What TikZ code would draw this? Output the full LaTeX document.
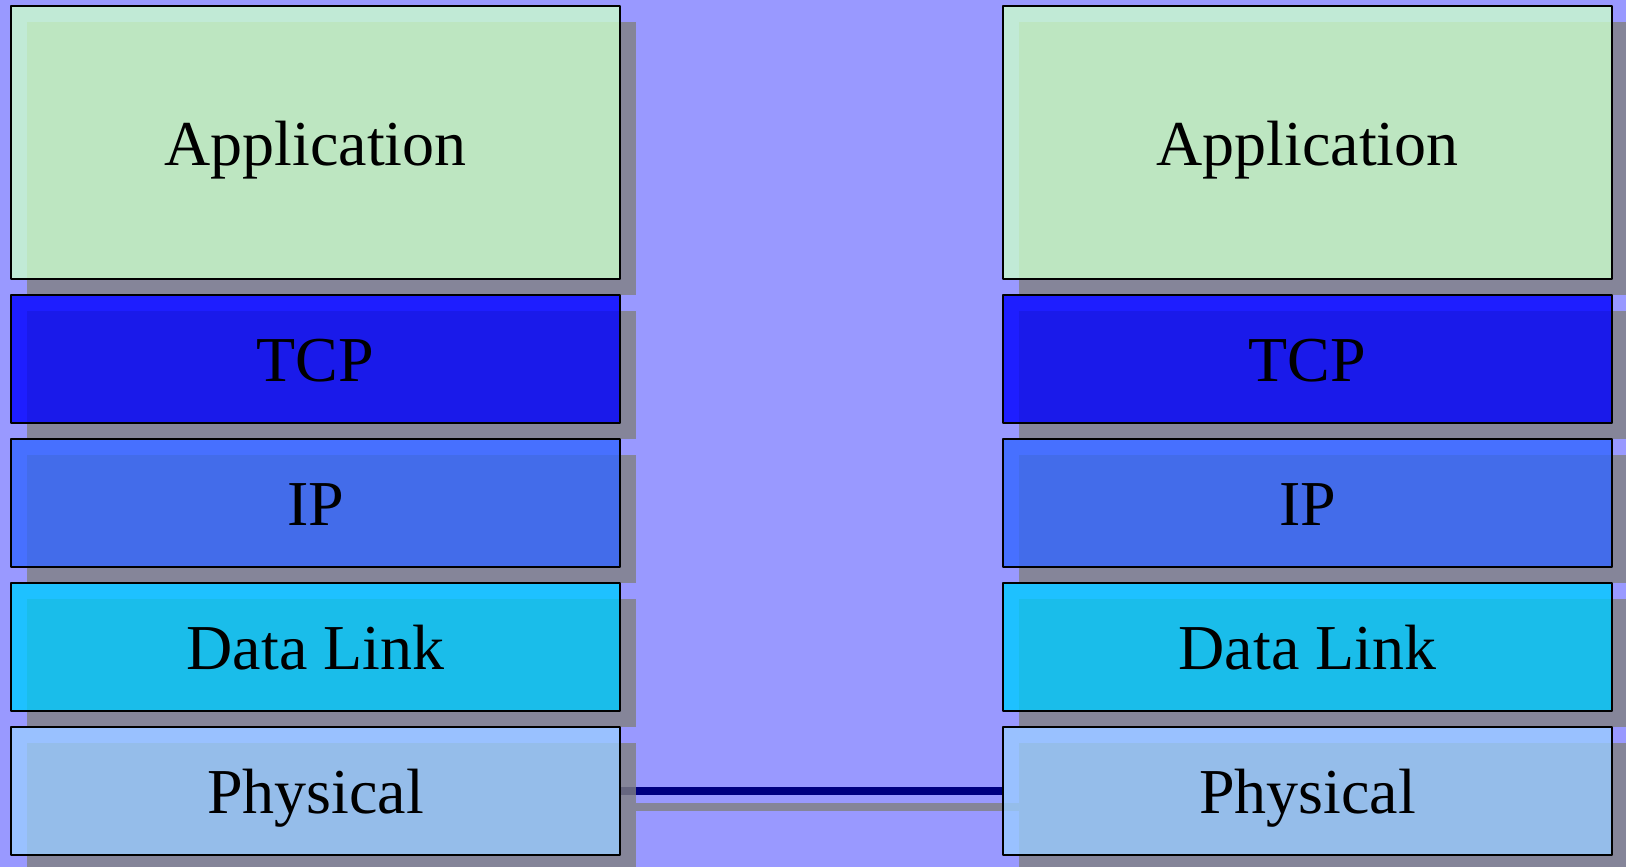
\documentclass[tikz,border=0pt]{standalone}
\usepackage{fontspec}
\setmainfont{Liberation Serif}
\usetikzlibrary{shadows}
\definecolor{bgblue}{RGB}{153,153,255}
\definecolor{appgreen}{RGB}{204,255,204}
\definecolor{tcpblue}{RGB}{0,0,255}
\definecolor{ipblue}{RGB}{51,102,255}
\definecolor{linkcyan}{RGB}{0,204,255}
\definecolor{physblue}{RGB}{153,204,255}
\definecolor{wirenavy}{RGB}{0,0,128}
\pgfdeclarelayer{bg}
\pgfsetlayers{bg,main}
\begin{document}
\begin{tikzpicture}[x=1pt,y=1pt,line join=round,
	layer/.style={draw=black,line width=1.5pt,fill opacity=0.8,text opacity=1,draw opacity=1,
		minimum width=609pt,inner sep=0pt,outer sep=0pt,text height=45pt,text depth=0pt,
		font=\fontsize{64}{76}\selectfont,
		drop shadow={shadow xshift=16pt,shadow yshift=-16pt,fill=gray,opacity=0.8}},
	wire/.style={line width=8pt}]
	\def\W{1626} \def\H{867} % Kich thuoc
	\def\sh{16}
	
	\useasboundingbox (0,0) rectangle (\W,-\H);
	
	% Hai ngan xep
	\foreach \x/\s in {315.5/L,1307.5/R}{
		\node[layer,fill=appgreen,minimum height=273pt] (app\s) at (\x,-142.5) {Application};
		\node[layer,fill=tcpblue,minimum height=128pt] (tcp\s) at (\x,-359) {TCP};
		\node[layer,fill=ipblue,minimum height=128pt] (ip\s) at (\x,-503) {IP};
		\node[layer,fill=linkcyan,minimum height=128pt] (link\s) at (\x,-647) {Data Link};
		\node[layer,fill=physblue,minimum height=128pt] (phys\s) at (\x,-791) {Physical};
	}
	
	\begin{pgfonlayer}{bg}
		\fill[bgblue] (0,0) rectangle (\W,-\H);
		\draw[wire,gray,opacity=0.8] ([shift={(\sh,-\sh)}]physL.east)--([shift={(\sh,-\sh)}]physR.west);
		\draw[wire,wirenavy] (physL.east)--(physR.west);
	\end{pgfonlayer}
\end{tikzpicture}
\end{document}
